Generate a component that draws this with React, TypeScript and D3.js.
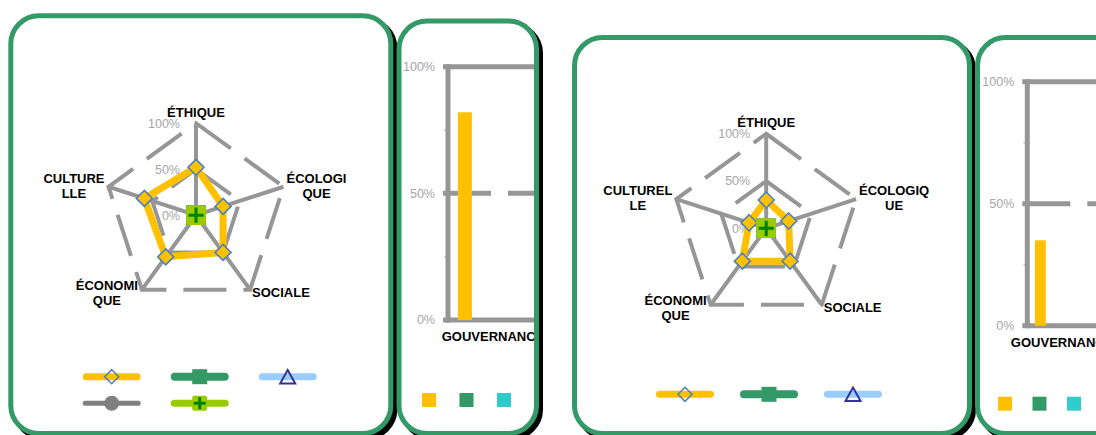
import React, { useRef, useEffect } from "react";
import * as d3 from "d3";

// radar axes, clockwise from the top
const categories = ["ÉTHIQUE", "ÉCOLOGIQUE", "SOCIALE", "ÉCONOMIQUE", "CULTURELLE"];
// the way the names wrap in each radar
const radarLabels1 = [["ÉTHIQUE"], ["ÉCOLOGI", "QUE"], ["SOCIALE"], ["ÉCONOMI", "QUE"], ["CULTURE", "LLE"]];
const radarLabels2 = [["ÉTHIQUE"], ["ÉCOLOGIQ", "UE"], ["SOCIALE"], ["ÉCONOMI", "QUE"], ["CULTUREL", "LE"]];

const seriesKeys = ["s1", "s2", "s3", "s4", "s5"];
// only the first series has values, the other four sit at 0
const radarValues1 = [0.52, 0.31, 0.5, 0.56, 0.59];
const radarValues2 = [0.3, 0.25, 0.43, 0.43, 0.19];
const zeroValues = [0, 0, 0, 0, 0];

const radarTicks = [0, 0.5, 1];
const barTicks = [0, 0.5, 1];
const barMinorTicks = [0.25, 0.75];

const barCategories = ["GOUVERNANCE"];
const barValues1 = [0.82, 0, 0, 0, 0];
const barValues2 = [0.35, 0, 0, 0, 0];

const GRAY = "#969696";
const FONT = "'Liberation Sans', Arial, sans-serif";

const seriesStyles = [
	{ color: "#FFC000", width: 7, marker: "diamond" },
	{ color: "#339966", width: 8, marker: "square" },
	{ color: "#99CCFF", width: 7, marker: "triangle" },
	{ color: "#808080", width: 5, marker: "circle" },
	{ color: "#99CC00", width: 7, marker: "plus" },
];
const barColors = ["#FFC000", "#339966", "#33CCCC", "#808080", "#99CC00"];

function drawMarker(g, kind, x, y, s, legend) {
	if (kind === "diamond") {
		g.append("path")
			.attr("d", `M${x},${y - s / 2}L${x + s / 2},${y}L${x},${y + s / 2}L${x - s / 2},${y}Z`)
			.attr("fill", legend ? "none" : "#FFC000")
			.attr("stroke", "#4F81BD")
			.attr("stroke-width", 1.6);
	} else if (kind === "square") {
		g.append("rect")
			.attr("x", x - s / 2)
			.attr("y", y - s / 2)
			.attr("width", s)
			.attr("height", s)
			.attr("fill", "#339966");
	} else if (kind === "triangle") {
		const h = s * 0.9;
		g.append("path")
			.attr("d", `M${x},${y - h / 2}L${x + s / 2},${y + h / 2}L${x - s / 2},${y + h / 2}Z`)
			.attr("fill", "none")
			.attr("stroke", "#333399")
			.attr("stroke-width", 2);
	} else if (kind === "circle") {
		g.append("circle").attr("cx", x).attr("cy", y).attr("r", s / 2).attr("fill", "#808080");
	} else {
		g.append("rect")
			.attr("x", x - s / 2)
			.attr("y", y - s / 2)
			.attr("width", s)
			.attr("height", s)
			.attr("rx", 2)
			.attr("fill", "#99CC00");
		const a = s * 0.4;
		g.append("path")
			.attr("d", `M${x - a},${y}H${x + a}M${x},${y - a}V${y + a}`)
			.attr("stroke", "#008000")
			.attr("stroke-width", 3);
	}
}

function drawPanel(svg, p, id) {
	// black drop shadow, then the white card with the green border
	svg.append("rect")
		.attr("x", p.x + 4)
		.attr("y", p.y + 4)
		.attr("width", p.w)
		.attr("height", p.h)
		.attr("rx", p.r)
		.attr("fill", "#000")
		.attr("stroke", "#000")
		.attr("stroke-width", 5);
	svg.append("rect")
		.attr("x", p.x)
		.attr("y", p.y)
		.attr("width", p.w)
		.attr("height", p.h)
		.attr("rx", p.r)
		.attr("fill", "#fff")
		.attr("stroke", "#339966")
		.attr("stroke-width", 5);
	svg.append("clipPath")
		.attr("id", id)
		.append("rect")
		.attr("x", p.x + 2.5)
		.attr("y", p.y + 2.5)
		.attr("width", p.w - 5)
		.attr("height", p.h - 5)
		.attr("rx", p.r - 2.5);
	return svg.append("g").attr("clip-path", `url(#${id})`);
}

function drawRadar(g, o) {
	const { cx, cy, r } = o;
	const rScale = d3.scaleLinear().domain([0, 1]).range([0, r]);
	const angle = (i) => (i * 2 * Math.PI) / categories.length;
	const chart = g.append("g").attr("transform", `translate(${cx},${cy})`);

	// value labels sit behind the grid
	chart.selectAll(".rtick")
		.data(radarTicks)
		.join("text")
		.attr("class", "rtick")
		.attr("x", -16)
		.attr("y", (d) => -rScale(d))
		.attr("dy", "0.35em")
		.attr("text-anchor", "end")
		.attr("font-family", FONT)
		.attr("font-size", 12.5)
		.attr("fill", "#A6A6A6")
		.text((d) => d3.format(".0%")(d));

	// dashed rings at 50% and 100%
	radarTicks.filter((t) => t > 0).forEach((t) => {
		const ring = d3.lineRadial()
			.angle((d, i) => angle(i))
			.radius(rScale(t))
			.curve(d3.curveLinearClosed);
		chart.append("path")
			.attr("d", ring(categories))
			.attr("fill", "none")
			.attr("stroke", GRAY)
			.attr("stroke-width", 4)
			.attr("stroke-dasharray", "43,17");
	});

	// spokes
	chart.selectAll(".spoke")
		.data(categories)
		.join("line")
		.attr("class", "spoke")
		.attr("x1", 0)
		.attr("y1", 0)
		.attr("x2", (d, i) => rScale(1) * Math.sin(angle(i)))
		.attr("y2", (d, i) => -rScale(1) * Math.cos(angle(i)))
		.attr("stroke", GRAY)
		.attr("stroke-width", 4);

	// category names, lines centred inside their block
	o.labels.forEach((lines, i) => {
		const vx = rScale(1) * Math.sin(angle(i));
		const vy = -rScale(1) * Math.cos(angle(i));
		const t = chart.append("text")
			.attr("font-family", FONT)
			.attr("font-size", 13)
			.attr("font-weight", "bold")
			.attr("text-anchor", "middle")
			.attr("fill", "#000");
		const spans = lines.map((l) => t.append("tspan").text(l));
		const w = d3.max(spans, (s) => s.node().getComputedTextLength());
		let x = vx;
		let mid = vy;
		if (i === 0) mid = vy - 6.5 - 4.7;
		else if (i === 1) { x = vx + 3 + w / 2; mid = vy - 1; }
		else if (i === 2) { x = vx + 2 + w / 2; mid = vy + 3; }
		else if (i === 3) { x = vx - 4 - w / 2; mid = vy + 3; }
		else { x = vx - 4 - w / 2; mid = vy - 1; }
		const first = mid + 4.7 - ((lines.length - 1) * 15) / 2;
		spans.forEach((s, k) => s.attr("x", x).attr("y", first + k * 15));
	});

	// series: first one with values, the others collapse on the centre
	const data = [o.values, zeroValues, zeroValues, zeroValues, zeroValues];
	const line = d3.lineRadial()
		.angle((d, i) => angle(i))
		.radius((d) => rScale(d))
		.curve(d3.curveLinearClosed);
	data.forEach((vals, s) => {
		const st = seriesStyles[s];
		chart.append("path")
			.attr("d", line(vals))
			.attr("fill", "none")
			.attr("stroke", st.color)
			.attr("stroke-width", st.width)
			.attr("stroke-linejoin", "round");
		const size = st.marker === "diamond" ? 16 : st.marker === "circle" ? 14 : st.marker === "triangle" ? 15 : 19;
		vals.forEach((v, i) => {
			drawMarker(chart, st.marker, rScale(v) * Math.sin(angle(i)), -rScale(v) * Math.cos(angle(i)), size, false);
		});
	});

	// legend (no text, just line + marker)
	o.legendRows.forEach((row, ri) => {
		row.forEach((s, k) => {
			const st = seriesStyles[s];
			const x = o.legendX + k * o.legendStep;
			const y = o.legendY + ri * 26.6;
			g.append("line")
				.attr("x1", x + st.width / 2)
				.attr("x2", x + 58 - st.width / 2)
				.attr("y1", y)
				.attr("y2", y)
				.attr("stroke", st.color)
				.attr("stroke-width", st.width)
				.attr("stroke-linecap", "round");
			drawMarker(g, st.marker, x + 29, y, st.marker === "diamond" ? 14 : 15, true);
		});
	});
}

function drawBar(g, o) {
	const y = d3.scaleLinear().domain([0, 1]).range([o.bottom, o.top]);
	const x0 = d3.scaleBand().domain(barCategories).range([o.left, o.right]);
	const x1 = d3.scaleBand().domain(seriesKeys).range([0, x0.bandwidth()]).paddingOuter(0.7);
	const edge = o.right + 10;

	g.selectAll(".bminor")
		.data(barMinorTicks)
		.join("line")
		.attr("class", "bminor")
		.attr("x1", o.left - 4)
		.attr("x2", o.left)
		.attr("y1", (d) => y(d))
		.attr("y2", (d) => y(d))
		.attr("stroke", "#d4d4d4")
		.attr("stroke-width", 2);

	g.selectAll(".btick")
		.data(barTicks)
		.join("text")
		.attr("class", "btick")
		.attr("x", o.left - 13)
		.attr("y", (d) => y(d))
		.attr("dy", "0.35em")
		.attr("text-anchor", "end")
		.attr("font-family", FONT)
		.attr("font-size", 12.5)
		.attr("fill", "#A6A6A6")
		.text((d) => d3.format(".0%")(d));

	g.selectAll(".bmajor")
		.data(barTicks)
		.join("line")
		.attr("class", "bmajor")
		.attr("x1", o.left - 5)
		.attr("x2", o.left)
		.attr("y1", (d) => y(d))
		.attr("y2", (d) => y(d))
		.attr("stroke", GRAY)
		.attr("stroke-width", 5);

	// 50% gridline dashed, 0% and 100% solid
	barTicks.forEach((t) => {
		g.append("line")
			.attr("x1", o.left)
			.attr("x2", edge)
			.attr("y1", y(t))
			.attr("y2", y(t))
			.attr("stroke", GRAY)
			.attr("stroke-width", 5)
			.attr("stroke-dasharray", t === 0.5 ? "43,17" : null);
	});
	g.append("line")
		.attr("x1", o.left)
		.attr("x2", o.left)
		.attr("y1", y(1) - 2.5)
		.attr("y2", y(0) + 2.5)
		.attr("stroke", GRAY)
		.attr("stroke-width", 5);

	barCategories.forEach((c) => {
		g.selectAll(".bar")
			.data(o.values)
			.join("rect")
			.attr("class", "bar")
			.attr("x", (d, i) => x0(c) + x1(seriesKeys[i]))
			.attr("y", (d) => y(d))
			.attr("width", x1.bandwidth())
			.attr("height", (d) => y(0) - y(d))
			.attr("fill", (d, i) => barColors[i]);
		g.append("text")
			.attr("x", x0(c) + x0.bandwidth() / 2)
			.attr("y", o.bottom + 21)
			.attr("text-anchor", "middle")
			.attr("font-family", FONT)
			.attr("font-size", 13)
			.attr("font-weight", "bold")
			.attr("fill", "#000")
			.text(c);
	});

	barColors.slice(0, 3).forEach((col, i) => {
		g.append("rect")
			.attr("x", o.legendX + i * o.legendStep)
			.attr("y", o.legendY)
			.attr("width", 14)
			.attr("height", 14)
			.attr("fill", col);
	});
}

const App = () => {
	const ref = useRef(null);

	useEffect(() => {
		const svg = d3.select(ref.current);
		svg.selectAll("*").remove();

		const g1 = drawPanel(svg, { x: 10.8, y: 15.8, w: 380, h: 417.7, r: 28 }, "clip1");
		drawRadar(g1, {
			cx: 196,
			cy: 215.2,
			r: 92,
			labels: radarLabels1,
			values: radarValues1,
			legendX: 82.7,
			legendY: 376.7,
			legendStep: 88,
			legendRows: [[0, 1, 2], [3, 4]],
		});

		const g2 = drawPanel(svg, { x: 399, y: 21, w: 137.5, h: 412.5, r: 28 }, "clip2");
		drawBar(g2, {
			left: 448,
			right: 538,
			top: 66.7,
			bottom: 320,
			values: barValues1,
			legendX: 422,
			legendY: 393,
			legendStep: 37.5,
		});

		const g3 = drawPanel(svg, { x: 574.5, y: 37.5, w: 395, h: 396, r: 28 }, "clip3");
		drawRadar(g3, {
			cx: 766.2,
			cy: 228.3,
			r: 94.5,
			labels: radarLabels2,
			values: radarValues2,
			legendX: 656,
			legendY: 394.3,
			legendStep: 84,
			legendRows: [[0, 1, 2]],
		});

		const g4 = drawPanel(svg, { x: 977.5, y: 37.5, w: 200, h: 396, r: 28 }, "clip4");
		drawBar(g4, {
			left: 1027.3,
			right: 1097,
			top: 81.7,
			bottom: 325.7,
			values: barValues2,
			legendX: 998,
			legendY: 396.7,
			legendStep: 34.5,
		});
	}, []);

	return (
		<svg
			ref={ref}
			width={1096}
			height={435}
			style={{ position: "absolute", left: 0, top: 0, background: "#fff" }}
		/>
	);
};

export default App;
